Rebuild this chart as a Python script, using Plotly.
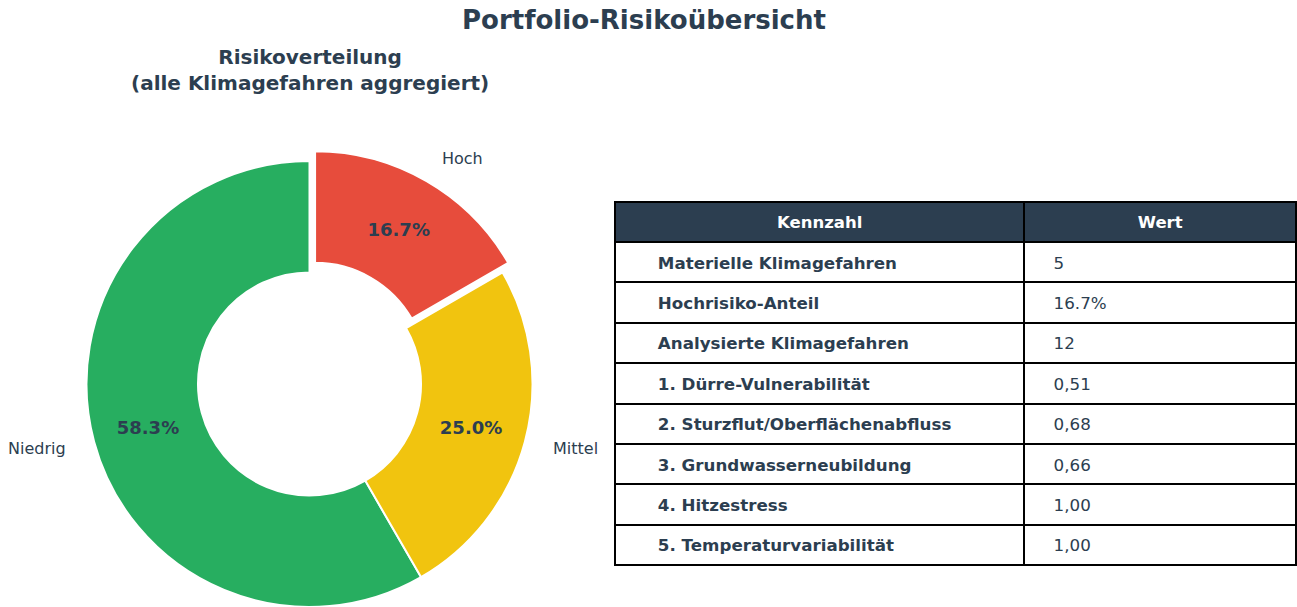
import math
import plotly.graph_objects as go

W, H = 1297, 607

# ---- data ----
risk_labels = ["Niedrig", "Mittel", "Hoch"]
risk_counts = [7, 3, 2]
risk_colors = ["#27ae60", "#f1c40f", "#e74c3c"]
explode = [0, 0, 0.05]

table_header = ["Kennzahl", "Wert"]
kennzahlen = [
    "Materielle Klimagefahren",
    "Hochrisiko-Anteil",
    "Analysierte Klimagefahren",
    "1. Dürre-Vulnerabilität",
    "2. Sturzflut/Oberflächenabfluss",
    "3. Grundwasserneubildung",
    "4. Hitzestress",
    "5. Temperaturvariabilität",
]
werte = ["5", "16.7%", "12", "0,51", "0,68", "0,66", "1,00", "1,00"]

# ---- layout constants ----
FONT = "DejaVu Sans"
DARK = "#2c3e50"
TRANSP = "rgba(0,0,0,0)"


def px(x):
    return x / W


def py(y):
    return 1 - y / H


cx, cy = 309.5, 384.0          # pie centre (px)
R = 223.0                      # radius (px)
LABEL_DIST = 1.12


def domain_for(dx=0.0, dy=0.0):
    return dict(x=[px(cx + dx - R), px(cx + dx + R)],
                y=[py(cy + dy + R), py(cy + dy - R)])


total = sum(risk_counts)
n = len(risk_counts)
rotation = -360 * risk_counts[0] / total   # first slice starts at 12 o'clock, ccw
mids, offsets = [], []
acc = 0
for v, p in zip(risk_counts, explode):
    mid = math.radians(90 + 360 * (acc + v / 2) / total)
    mids.append(mid)
    offsets.append((p * R * math.cos(mid), -p * R * math.sin(mid)))
    acc += v

fig = go.Figure()

groups = {}
for i, p in enumerate(explode):
    groups.setdefault(p, []).append(i)

for p, idxs in groups.items():
    dx, dy = offsets[idxs[0]]
    colors = [risk_colors[i] if i in idxs else TRANSP for i in range(n)]
    lw = [2 if i in idxs else 0 for i in range(n)]
    fig.add_trace(go.Pie(
        labels=risk_labels, values=risk_counts, sort=False,
        direction="counterclockwise", rotation=rotation, hole=0.5,
        domain=domain_for(dx, dy),
        marker=dict(colors=colors, line=dict(color="white", width=lw)),
        texttemplate="%{percent:.1%}",
        textposition=["inside" if i in idxs else "none" for i in range(n)],
        insidetextorientation="horizontal",
        textfont=dict(family=FONT, size=18, color=DARK, weight="bold"),
        showlegend=False, hoverinfo="label+percent",
    ))

# category labels outside the ring (like labeldistance=1.1)
annotations = []
for lab, mid, (dx, dy) in zip(risk_labels, mids, offsets):
    lx = cx + dx + LABEL_DIST * R * math.cos(mid)
    ly = cy + dy - LABEL_DIST * R * math.sin(mid)
    annotations.append(dict(
        text=lab, x=px(lx), y=py(ly), xref="paper", yref="paper",
        xanchor="left" if math.cos(mid) >= 0 else "right", yanchor="middle",
        showarrow=False, font=dict(family=FONT, size=16, color=DARK),
    ))

annotations.append(dict(
    text="<b>Risikoverteilung<br>(alle Klimagefahren aggregiert)</b>",
    x=px(cx), y=py(70), xref="paper", yref="paper",
    xanchor="center", yanchor="middle", showarrow=False,
    font=dict(family=FONT, size=20, color=DARK),
))

# ---- table ----
TABLE_TOP = 202
TEXT_SHIFT = 6          # plotly puts cell text near the top; shift to centre it
COLW = [410, 272]
HEAD_H, ROW_H = 40, 40.4
pad1 = "\u00a0" * 6
pad2 = "\u00a0" * 4

# grid + fills
fig.add_trace(go.Table(
    domain=dict(x=[px(615), px(1296)], y=[0.0, py(TABLE_TOP)]),
    columnwidth=COLW,
    header=dict(
        values=["" for _ in table_header],
        fill_color=DARK,
        line=dict(color="black", width=2),
        height=HEAD_H,
    ),
    cells=dict(
        values=[["" for _ in kennzahlen], ["" for _ in werte]],
        fill_color="white",
        line=dict(color="black", width=2),
        height=ROW_H,
    ),
    hoverinfo="skip",
))

# text layer
fig.add_trace(go.Table(
    domain=dict(x=[px(615), px(1296)], y=[0.0, py(TABLE_TOP + TEXT_SHIFT)]),
    columnwidth=COLW,
    header=dict(
        values=table_header,
        fill_color=TRANSP,
        line=dict(color=TRANSP, width=0),
        align="center",
        height=HEAD_H,
        font=dict(family=FONT, size=16.5, color="white", weight="bold"),
    ),
    cells=dict(
        values=[[pad1 + k for k in kennzahlen], [pad2 + w for w in werte]],
        fill_color=TRANSP,
        line=dict(color=TRANSP, width=0),
        align="left",
        height=ROW_H,
        font=dict(family=FONT, size=16.7, color=DARK, weight=["bold", "normal"]),
    ),
))

fig.update_layout(
    width=W, height=H,
    margin=dict(l=0, r=0, t=0, b=0),
    paper_bgcolor="white",
    plot_bgcolor="white",
    font=dict(family=FONT, color=DARK),
    title=dict(
        text="<b>Portfolio-Risikoübersicht</b>",
        x=px(644), xanchor="center",
        y=py(20), yanchor="middle", yref="container",
        font=dict(family=FONT, size=26, color=DARK),
    ),
    annotations=annotations,
)

fig.write_html(
    "out.html",
    config={"displayModeBar": False},
    post_script="document.body.style.margin='0px';document.body.style.overflow='hidden';",
)
